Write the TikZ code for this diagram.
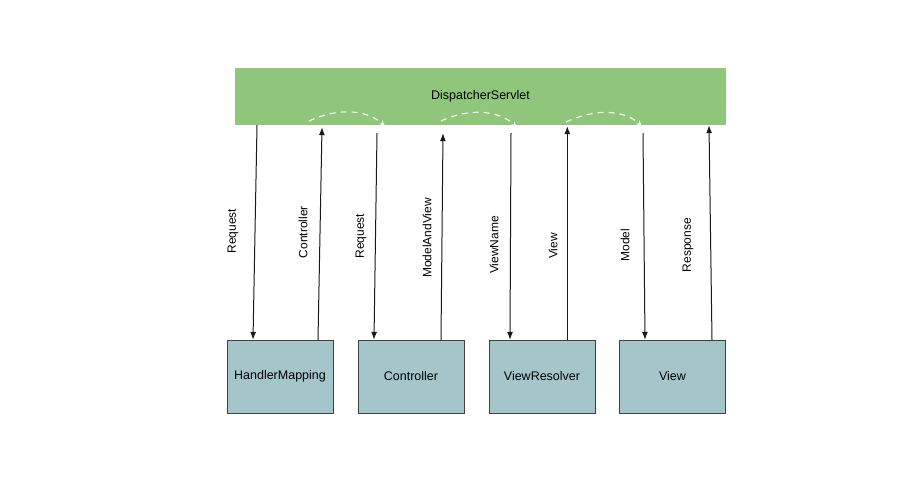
\documentclass[tikz,border=0pt]{standalone}
\usepackage{fontspec}
\setmainfont{Liberation Sans}
\usetikzlibrary{arrows.meta}
\definecolor{servletgreen}{RGB}{144,197,124}
\definecolor{compblue}{RGB}{164,197,202}

\tikzset{
  servlet/.style={fill=servletgreen, minimum width=491pt, minimum height=57pt, inner sep=0pt, font=\fontsize{12.5}{14}\selectfont},
  comp/.style={draw=black!75, fill=compblue, minimum width=106pt, minimum height=73pt, inner sep=0pt, font=\fontsize{12.5}{14}\selectfont},
  msg/.style={rotate=90, inner sep=0pt, font=\fontsize{12}{13}\selectfont},
  flow/.style={black!90, line width=1pt, -{Latex[length=8pt,width=6pt]}},
  hop/.style={white!88!servletgreen, line width=1.2pt, dash pattern=on 6pt off 5pt, -{Stealth[length=6pt,width=5pt]}}
}

\begin{document}
\begin{tikzpicture}[x=1pt, y=-1pt]
\fill[white] (0,0) rectangle (900,480);
\useasboundingbox (0,0) rectangle (900,480);
% servlet bar and components
\node[servlet] (ds) at (480.5, 96.5){DispatcherServlet};
\node[comp] (hm) at (280, 376.5){HandlerMapping};
\node[comp] (cn) at (411, 376.5){Controller};
\node[comp] (vr) at (542, 376.5){ViewResolver};
\node[comp] (vw) at (672.5, 376.5){View};
% messages
\node[msg] (lreq1) at (233, 231){Request};
\node[msg] (lctl) at (303, 232){Controller};
\node[msg] (lreq2) at (361, 236){Request};
\node[msg] (lmav) at (427, 238){ModelAndView};
\node[msg] (lvn) at (494, 245){ViewName};
\node[msg] (lview) at (553, 246){View};
\node[msg] (lmod) at (625, 245){Model};
\node[msg] (lresp) at (688, 245){Response};
\draw[flow] ([xshift=-223.5pt]ds.south) -- ([xshift=-27pt]hm.north);
\draw[flow] ([xshift=38pt]hm.north) -- ([xshift=-158.5pt, yshift=-2pt]ds.south);
\draw[flow] ([xshift=-103.5pt, yshift=-8pt]ds.south) -- ([xshift=-37pt]cn.north);
\draw[flow] ([xshift=30pt]cn.north) -- ([xshift=-37.5pt, yshift=-8pt]ds.south);
\draw[flow] ([xshift=30.5pt, yshift=-8pt]ds.south) -- ([xshift=-32pt]vr.north);
\draw[flow] ([xshift=25.3pt]vr.north) -- ([xshift=86.8pt, yshift=-1pt]ds.south);
\draw[flow] ([xshift=162.5pt, yshift=-8pt]ds.south) -- ([xshift=-27.5pt]vw.north);
\draw[flow] ([xshift=39.5pt]vw.north) -- ([xshift=228.5pt]ds.south);
% hand-over hops inside the servlet
\coordinate (h1a) at (309, 121);
\coordinate (h1b) at (385, 126);
\coordinate (h2a) at (441, 121);
\coordinate (h2b) at (517, 127);
\coordinate (h3a) at (566, 122);
\coordinate (h3b) at (642, 126);
\draw[hop] (h1a) .. controls +(30, -14) and +(-18, -16) .. (h1b);
\draw[hop] (h2a) .. controls +(30, -14) and +(-18, -16) .. (h2b);
\draw[hop] (h3a) .. controls +(30, -14) and +(-18, -16) .. (h3b);
\end{tikzpicture}
\end{document}
